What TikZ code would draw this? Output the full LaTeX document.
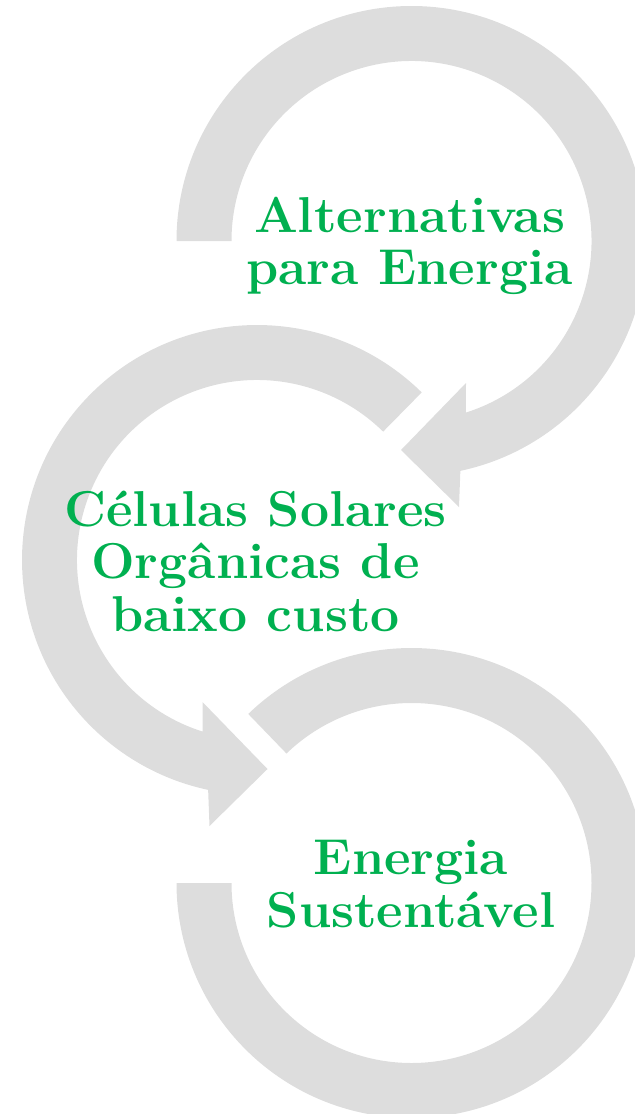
\documentclass[tikz,border=0pt]{standalone}
\usepackage{fontspec}
\definecolor{ringgray}{RGB}{221,221,221}
\definecolor{txtgreen}{RGB}{0,176,80}
\begin{document}
\begin{tikzpicture}[x=0.5pt,y=0.5pt,
  ring/.style={fill=ringgray,draw=none},
  lbl/.style={text=txtgreen,font=\fontsize{25.2}{26.25}\selectfont\bfseries,align=center,inner sep=0pt,xscale=1.025}]
\clip (0,0) rectangle (635,-1114);
\coordinate (c1) at (411.5,-241);
\coordinate (c2) at (257,-560);
\coordinate (c3) at (411.5,-883);
% top arrow (clockwise)
\begin{scope}[shift={(c1)}]
\fill[ring] (180:235) arc[start angle=180,end angle=-78,radius=235]
  -- (47.5,-266) -- (-10.5,-209) -- (54.5,-142) -- (-72.4:180)
  arc[start angle=-72.4,end angle=180,radius=180] -- cycle;
\end{scope}
% middle arrow (counter-clockwise)
\begin{scope}[shift={(c2)}]
\fill[ring] (45.5:235) arc[start angle=45.5,end angle=258,radius=235]
  -- (-47.5,-266) -- (10.5,-209) -- (-54.5,-142) -- (252.4:180)
  arc[start angle=252.4,end angle=45.5,radius=180] -- cycle;
\end{scope}
% bottom arc
\begin{scope}[shift={(c3)}]
\fill[ring] (134:235) arc[start angle=134,end angle=-180,radius=235]
  -- (180:180) arc[start angle=-180,end angle=134,radius=180] -- cycle;
\end{scope}
\node[lbl] (t1) at (409.5,-246) {Alternativas\\para Energia};
\node[lbl] (t2) at (255.5,-561) {Células Solares\\Orgânicas de\\baixo custo};
\node[lbl] (t3) at (411,-884) {Energia\\Sustentável};
\end{tikzpicture}
\end{document}
